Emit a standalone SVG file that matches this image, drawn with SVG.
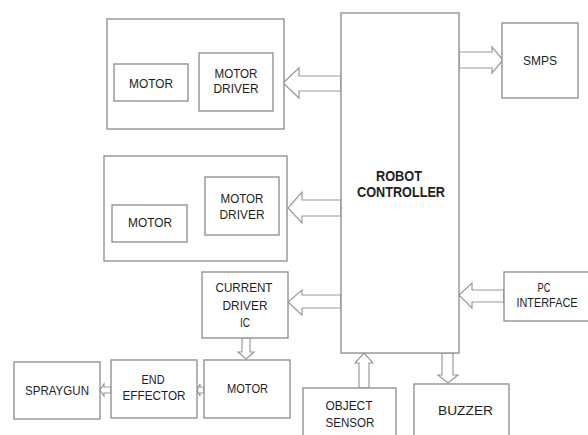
<svg xmlns="http://www.w3.org/2000/svg" width="588" height="435" viewBox="0 0 588 435">
<style>
.box{fill:#fff;stroke:#8a8a8a;stroke-width:1.3}
.arr{fill:#fff;stroke:#9a9a9a;stroke-width:1.2;stroke-linejoin:miter}
text{font-family:"Liberation Sans",Arial,sans-serif;font-size:13px;fill:#1e1e1e;text-anchor:middle}
.b{font-weight:bold;font-size:14px}
</style>
<rect width="588" height="435" fill="#fff"/>
<g id="connectors">
<polygon class="arr" points="341,76 299,76 299,68 283,83 299,98 299,91 341,91"/>
<polygon class="arr" points="341,200 302,200 302,192 288,208 302,223 302,216 341,216"/>
<polygon class="arr" points="341,295 302,295 302,290 288,302 302,315 302,308 341,308"/>
<polygon class="arr" points="459,52 492,52 492,47 503,60 492,73 492,68 459,68"/>
<polygon class="arr" points="504,290 472,290 472,283 459,295 472,308 472,302 504,302"/>
<polygon class="arr" points="359,388 359,363 355,363 364,353 373,363 369,363 369,388"/>
<polygon class="arr" points="442,353 442,375 438,375 448,383 458,375 453,375 453,353"/>
<polygon class="arr" points="242,338 242,352 238,352 246,359 254,352 250,352 250,338"/>
<polygon class="arr" points="111,387 104,387 104,384 100,390 104,396 104,393 111,393"/>
<polygon class="arr" points="204,387 200,387 200,384 197,390 200,396 200,393 204,393"/>
</g>
<g id="group1">
<rect class="box" x="107" y="19" width="177" height="110"/>
</g>
<g id="motor1">
<rect class="box" x="114" y="64" width="74" height="37"/>
<text x="151" y="88" textLength="44" lengthAdjust="spacingAndGlyphs">MOTOR</text>
</g>
<g id="driver1">
<rect class="box" x="199" y="53" width="74" height="58"/>
<text x="236" y="78" textLength="43" lengthAdjust="spacingAndGlyphs">MOTOR</text>
<text x="236" y="93" textLength="45" lengthAdjust="spacingAndGlyphs">DRIVER</text>
</g>
<g id="group2">
<rect class="box" x="104" y="156" width="183" height="105"/>
</g>
<g id="motor2">
<rect class="box" x="112" y="205" width="75" height="37"/>
<text x="150" y="227" textLength="44" lengthAdjust="spacingAndGlyphs">MOTOR</text>
</g>
<g id="driver2">
<rect class="box" x="205" y="177" width="74" height="58"/>
<text x="242" y="203" textLength="43" lengthAdjust="spacingAndGlyphs">MOTOR</text>
<text x="242" y="219" textLength="45" lengthAdjust="spacingAndGlyphs">DRIVER</text>
</g>
<g id="controller">
<rect class="box" x="341" y="13" width="118" height="340"/>
<text class="b" x="399" y="181" textLength="46" lengthAdjust="spacingAndGlyphs">ROBOT</text>
<text class="b" x="401" y="197" textLength="88" lengthAdjust="spacingAndGlyphs">CONTROLLER</text>
</g>
<g id="smps">
<rect class="box" x="502" y="23" width="76" height="75"/>
<text x="540" y="65" textLength="34" lengthAdjust="spacingAndGlyphs">SMPS</text>
</g>
<g id="current-driver">
<rect class="box" x="202" y="272" width="86" height="66"/>
<text x="244" y="292" textLength="57" lengthAdjust="spacingAndGlyphs">CURRENT</text>
<text x="245" y="310" textLength="45" lengthAdjust="spacingAndGlyphs">DRIVER</text>
<text x="245" y="327" textLength="10" lengthAdjust="spacingAndGlyphs">IC</text>
</g>
<g id="pc-interface">
<rect class="box" x="504" y="272" width="90" height="49"/>
<text x="544" y="292" textLength="13" lengthAdjust="spacingAndGlyphs">PC</text>
<text x="547" y="307" textLength="61" lengthAdjust="spacingAndGlyphs">INTERFACE</text>
</g>
<g id="motor3">
<rect class="box" x="204" y="360" width="86" height="58"/>
<text x="247.5" y="393" textLength="41" lengthAdjust="spacingAndGlyphs">MOTOR</text>
</g>
<g id="end-effector">
<rect class="box" x="111" y="360" width="86" height="58"/>
<text x="153" y="384" textLength="23" lengthAdjust="spacingAndGlyphs">END</text>
<text x="154" y="400" textLength="63" lengthAdjust="spacingAndGlyphs">EFFECTOR</text>
</g>
<g id="spraygun">
<rect class="box" x="14" y="362" width="86" height="57"/>
<text x="57" y="395" textLength="64" lengthAdjust="spacingAndGlyphs">SPRAYGUN</text>
</g>
<g id="object-sensor">
<rect class="box" x="303" y="388" width="93" height="60"/>
<text x="349" y="410" textLength="47" lengthAdjust="spacingAndGlyphs">OBJECT</text>
<text x="350" y="427" textLength="49" lengthAdjust="spacingAndGlyphs">SENSOR</text>
</g>
<g id="buzzer">
<rect class="box" x="414" y="384" width="95" height="64"/>
<text x="465.5" y="415" textLength="55" lengthAdjust="spacingAndGlyphs">BUZZER</text>
</g>
</svg>
